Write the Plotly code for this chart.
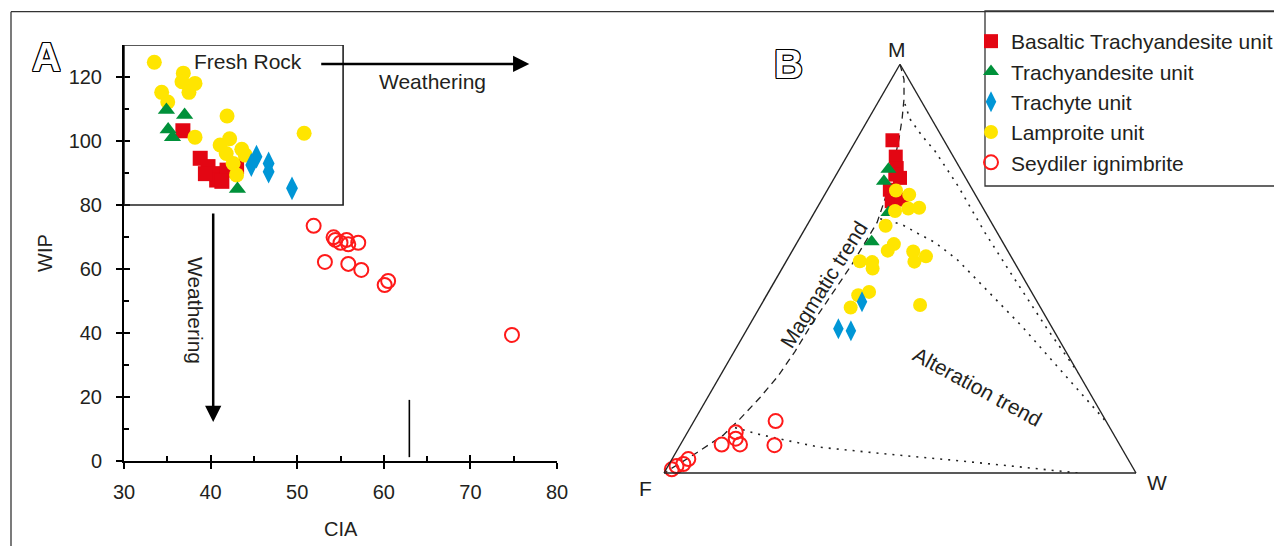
import plotly.graph_objects as go

W, H = 1274, 546
def px(x): return x / W
def py(y): return (H - y) / H

FONT = "Liberation Sans, Arial, sans-serif"
TXT = "#231f20"

# ---------------- Panel A data (CIA vs WIP) ----------------
bta_cia = [36.8, 38.8, 39.7, 40.7, 40.7, 41.9, 43.0, 39.4, 41.3]
bta_wip = [103.2, 94.6, 92.0, 89.8, 87.8, 90.9, 92.0, 89.8, 87.4]
ta_cia = [34.9, 37.0, 35.1, 35.6, 43.1]
ta_wip = [109.7, 108.1, 103.6, 101.2, 85.0]
tr_cia = [45.3, 44.7, 46.7, 46.7, 49.4]
tr_wip = [95.1, 92.5, 93.0, 90.4, 85.2]
la_cia = [33.5, 36.85, 36.7, 38.2, 37.5, 34.35, 35.05, 41.9, 38.2, 50.8, 41.1, 42.2, 43.6, 44.0, 41.8, 42.6, 43.0]
la_wip = [124.6, 121.2, 118.5, 118.0, 115.2, 115.2, 112.2, 107.8, 101.2, 102.4, 98.75, 100.7, 97.4, 95.6, 96.1, 93.0, 89.4]
sey_cia = [51.9, 54.2, 54.4, 55.0, 55.7, 55.9, 57.05, 53.2, 55.9, 57.4, 60.1, 60.5, 74.8]
sey_wip = [73.5, 69.9, 69.1, 68.2, 69.1, 67.7, 68.2, 62.2, 61.6, 59.7, 55.0, 56.25, 39.4]

x_ticks = [30, 40, 50, 60, 70, 80]
y_ticks = [0, 20, 40, 60, 80, 100, 120]

# ---------------- Panel B data (M-F-W ternary, %) ----------------
bta_M = [81.4, 77.4, 74.6, 72.2, 73.0, 69.3, 66.5, 66.9]
bta_F = [10.9, 12.2, 13.4, 13.9, 14.5, 17.5, 18.5, 16.2]
bta_W = [7.7, 10.4, 12.0, 13.9, 12.5, 13.2, 15.0, 16.9]
ta_M = [74.3, 71.4, 63.7, 56.6]
ta_F = [15.3, 17.7, 20.6, 27.7]
ta_W = [10.4, 10.9, 15.7, 15.7]
tr_M = [41.9, 35.3, 34.8]
tr_F = [37.1, 45.4, 43.0]
tr_W = [21.0, 19.3, 22.2]
la_M = [69.1, 68.1, 64.1, 64.7, 64.9, 60.5, 56.0, 54.4, 54.2, 53.0, 51.7, 51.8, 51.6, 50.0, 44.3, 43.5, 40.5, 41.1]
la_F = [16.3, 14.0, 19.0, 15.9, 13.5, 22.8, 23.3, 25.4, 20.1, 18.0, 21.1, 32.6, 30.1, 30.8, 34.4, 37.1, 40.2, 25.2]
la_W = [14.6, 17.9, 16.9, 19.4, 21.6, 16.7, 20.7, 20.2, 25.7, 29.0, 27.2, 15.6, 18.3, 19.2, 21.3, 19.4, 19.3, 33.7]
sey_M = [0.9, 1.7, 2.2, 3.4, 6.95, 10.0, 8.4, 7.0, 12.7, 6.8]
sey_F = [97.9, 96.5, 94.8, 93.15, 84.3, 79.8, 80.6, 80.4, 70.0, 73.2]
sey_W = [1.2, 1.8, 3.0, 3.45, 8.75, 10.2, 11.0, 12.6, 17.3, 20.0]

# trend lines
mag_M = [100, 96.4, 91.5, 86.7, 81.8, 75.8, 68.5, 61.3, 55.9, 51.1, 43.8, 36.6, 29.8, 23.7, 18.4, 13.3, 9.2, 4.4, 0]
mag_F = [0, 1.0, 3.4, 6.2, 9.3, 13.4, 18.5, 24.2, 29.7, 34.6, 42.5, 50.4, 57.4, 64.0, 70.5, 77.2, 82.9, 91.7, 100]
mag_W = [0, 2.7, 5.1, 7.1, 8.9, 10.8, 13.0, 14.5, 14.4, 14.3, 13.7, 13.1, 12.9, 12.3, 11.1, 9.5, 7.9, 4.0, 0]
alt1_M = [90.3, 86.7, 82.6, 78.7, 70.2, 58.8, 49.2, 35.4, 24.5]
alt1_F = [3.8, 4.6, 4.1, 3.2, 2.6, 2.6, 2.1, 1.2, 0]
alt1_W = [5.9, 8.8, 13.4, 18.1, 27.2, 38.6, 48.7, 63.5, 75.5]
alt2_M = [62.2, 60.8, 58.6, 56.4, 52.3, 35.8, 12.4]
alt2_F = [23.1, 19.2, 16.9, 14.4, 11.8, 6.2, 0]
alt2_W = [14.7, 20.0, 24.5, 29.2, 35.9, 58.0, 87.6]
alt3_M = [11.1, 9.4, 7.8, 6.3, 4.8, 3.2, 1.5, 0]
alt3_F = [79.4, 75.0, 69.4, 63.8, 51.8, 37.8, 23.9, 12.3]
alt3_W = [9.5, 15.6, 22.8, 29.9, 43.4, 59.0, 74.6, 87.7]

names = ["Basaltic Trachyandesite unit", "Trachyandesite unit", "Trachyte unit",
         "Lamproite unit", "Seydiler ignimbrite"]

RED = "#e30613"; GREEN = "#00913a"; BLUE = "#0096d6"; YEL = "#ffe500"; ORED = "#ff1a1a"

fig = go.Figure()

# ---- Panel A traces
def sA(x, y, sym, color, size, open_=False):
    m = dict(symbol=sym, size=size, color=color, line=dict(width=0))
    if open_:
        m = dict(symbol="circle-open", size=size, color=color, line=dict(width=2))
    fig.add_trace(go.Scatter(x=x, y=y, mode="markers", marker=m, showlegend=False,
                             xaxis="x", yaxis="y", cliponaxis=False))

sA(bta_cia, bta_wip, "square", RED, 15)
sA(la_cia, la_wip, "circle", YEL, 15)
sA(ta_cia, ta_wip, "triangle-up", GREEN, 15)
sA(tr_cia, tr_wip, "diamond-tall", BLUE, 17)
sA(sey_cia, sey_wip, "circle-open", ORED, 14, True)

# helper empty trace to make the overlay axes exist
fig.add_trace(go.Scatter(x=[], y=[], xaxis="x3", yaxis="y3", showlegend=False))

# ---- Panel B trend lines
def tline(a, b, c, dash, width):
    fig.add_trace(go.Scatterternary(a=a, b=b, c=c, mode="lines", showlegend=False,
                                    line=dict(color="#222", width=width, dash=dash),
                                    hoverinfo="skip", cliponaxis=False))
tline(mag_M, mag_F, mag_W, "7px,5px", 1.3)
tline(alt1_M, alt1_F, alt1_W, "2px,6px", 1.6)
tline(alt2_M, alt2_F, alt2_W, "2px,6px", 1.6)
tline(alt3_M, alt3_F, alt3_W, "2px,6px", 1.6)

def sB(a, b, c, sym, color, size, name, rank, open_=False):
    m = dict(symbol=sym, size=size, color=color, line=dict(width=0))
    if open_:
        m = dict(symbol="circle-open", size=size, color=color, line=dict(width=2))
    fig.add_trace(go.Scatterternary(a=a, b=b, c=c, mode="markers", marker=m, name=name,
                                    legendrank=rank, cliponaxis=False))

sB(bta_M, bta_F, bta_W, "square", RED, 14, names[0], 1)
sB(ta_M, ta_F, ta_W, "triangle-up", GREEN, 14, names[1], 2)
sB(la_M, la_F, la_W, "circle", YEL, 14, names[3], 4)
sB(tr_M, tr_F, tr_W, "diamond-tall", BLUE, 15, names[2], 3)
sB(sey_M, sey_F, sey_W, "circle-open", ORED, 14, names[4], 5, True)

tern_ax = dict(showline=True, linecolor="#222", linewidth=1.4, showgrid=False,
               showticklabels=False, ticks="", title=dict(text=""), min=0)

tri_h = 472 * 3 ** 0.5 / 2
ax_common = dict(showgrid=False, zeroline=False, linecolor="#000", linewidth=2,
                 tickcolor="#000", tickwidth=1.6)
ax_over = {k: v for k, v in ax_common.items() if k not in ("linecolor", "linewidth")}

fig.update_layout(
    width=W, height=H, autosize=False,
    margin=dict(l=0, r=0, t=0, b=0, autoexpand=False),
    paper_bgcolor="white", plot_bgcolor="rgba(0,0,0,0)",
    font=dict(family=FONT, size=21, color=TXT),
    xaxis=dict(domain=[px(124), px(557)], range=[30, 80], anchor="y", showline=True,
               tickvals=x_ticks, ticks="outside", ticklen=6, ticklabelstandoff=6,
               minor=dict(ticks="inside", ticklen=5, tickvals=[35, 45, 55, 65, 75],
                          tickcolor="#000", tickwidth=1.6),
               tickfont=dict(size=20, color=TXT), **ax_common),
    yaxis=dict(domain=[py(461), py(45)], range=[0, 130], anchor="x", showline=True,
               tickvals=y_ticks, ticks="outside", ticklen=6, ticklabelstandoff=10,
               minor=dict(ticks="inside", ticklen=5, tickvals=[10, 30, 50, 70, 90, 110],
                          tickcolor="#000", tickwidth=1.6),
               tickfont=dict(size=20, color=TXT), **ax_common),
    xaxis3=dict(domain=[px(124), px(557)], range=[30, 80], anchor="y3", overlaying="x",
                tickvals=x_ticks, ticks="inside", ticklen=6, showticklabels=False,
                showline=False, **ax_over),
    yaxis3=dict(domain=[py(461), py(45)], range=[0, 130], anchor="x3", overlaying="y",
                tickvals=y_ticks, ticks="inside", ticklen=6, showticklabels=False,
                showline=False, **ax_over),
    ternary=dict(domain=dict(x=[px(664), px(1136)], y=[py(473), py(473 - tri_h)]),
                 sum=100, bgcolor="rgba(0,0,0,0)",
                 aaxis=tern_ax, baxis=tern_ax, caxis=tern_ax),
    legend=dict(x=px(971), y=py(21), xanchor="left", yanchor="top",
                bgcolor="rgba(0,0,0,0)", borderwidth=0, itemwidth=30,
                font=dict(size=21, color=TXT, family=FONT), tracegroupgap=0,
                itemclick=False),
    showlegend=True,
)

shapes = [
    # outer frame
    dict(type="line", xref="paper", yref="paper", x0=px(11), x1=1.0, y0=py(11.7), y1=py(11.7),
         line=dict(color="#333", width=1.3)),
    dict(type="line", xref="paper", yref="paper", x0=px(11), x1=px(11), y0=py(11.7), y1=0,
         line=dict(color="#333", width=1.3)),
    # legend box
    dict(type="rect", xref="paper", yref="paper", x0=px(985), x1=px(1290), y0=py(186), y1=py(11),
         line=dict(color="#333", width=1.3), fillcolor="rgba(0,0,0,0)"),
    # fresh rock box
    dict(type="rect", xref="x", yref="y", x0=30, x1=55.3, y0=80, y1=130,
         line=dict(color="#222", width=1.6)),
    # vertical marker line near CIA 63
    dict(type="line", xref="x", yref="y", x0=62.95, x1=62.95, y0=1.2, y1=19.1,
         line=dict(color="#000", width=1.6)),
]

shadow = ("1px 0 0 #000, -1px 0 0 #000, 0 1px 0 #000, 0 -1px 0 #000, "
          "1px 1px 0 #000, -1px -1px 0 #000, 1px -1px 0 #000, -1px 1px 0 #000")

def ann(x, y, text, size=21, angle=0, **kw):
    d = dict(x=px(x), y=py(y), xref="paper", yref="paper", text=text, showarrow=False,
             textangle=angle, xanchor="center", yanchor="middle",
             font=dict(size=size, color=TXT, family=FONT))
    d.update(kw)
    return d

annotations = [
    ann(341, 529, "CIA", 20),
    ann(45, 253, "WIP", 20, -90),
    ann(248, 61, "Fresh Rock", 21),
    ann(432, 81, "Weathering", 21),
    ann(196, 310, "Weathering", 21, 90),
    ann(897, 49, "M", 21),
    ann(645, 488, "F", 21),
    ann(1157, 482, "W", 21),
    ann(824, 285, "Magmatic trend", 21, -58),
    ann(977, 387, "Alteration trend", 21, 28.5),
    dict(x=px(46), y=py(57), xref="paper", yref="paper", text="<b>A</b>", showarrow=False,
         xanchor="center", yanchor="middle",
         font=dict(size=40, color="white", family=FONT, shadow=shadow)),
    dict(x=px(788), y=py(64), xref="paper", yref="paper", text="<b>B</b>", showarrow=False,
         xanchor="center", yanchor="middle",
         font=dict(size=40, color="white", family=FONT, shadow=shadow)),
    # arrows
    dict(x=76.8, y=124.1, ax=52.6, ay=124.1, xref="x", yref="y", axref="x", ayref="y",
         text="", showarrow=True, arrowhead=2, arrowsize=1.3, arrowwidth=2.5, arrowcolor="#000"),
    dict(x=40.3, y=12.2, ax=40.3, ay=77.8, xref="x", yref="y", axref="x", ayref="y",
         text="", showarrow=True, arrowhead=2, arrowsize=1.3, arrowwidth=2.5, arrowcolor="#000"),
]

fig.update_layout(shapes=shapes, annotations=annotations)
fig.write_html("out.html")
